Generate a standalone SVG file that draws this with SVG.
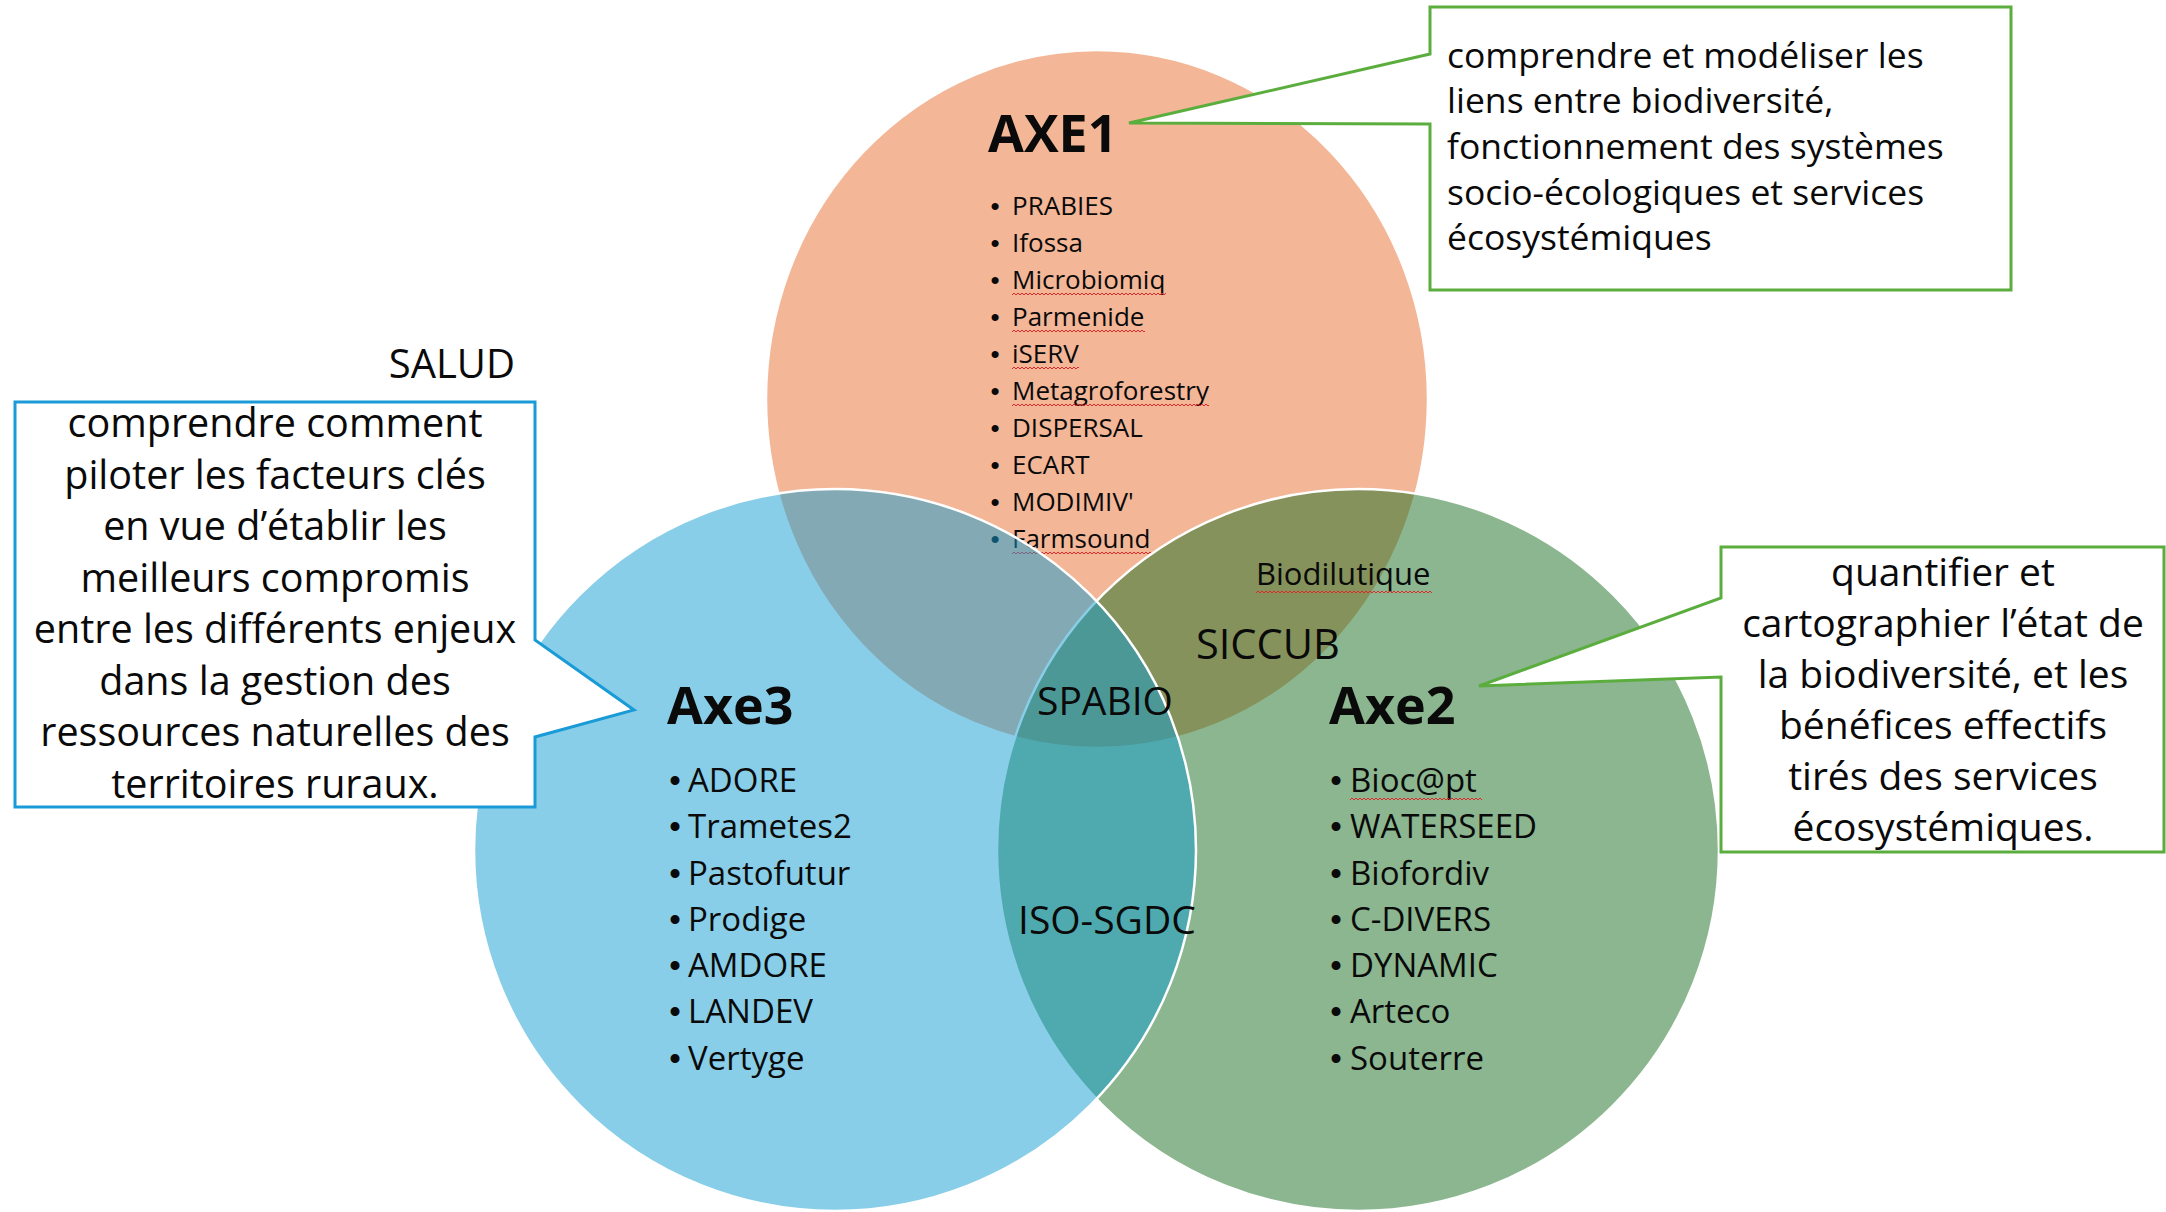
<svg xmlns="http://www.w3.org/2000/svg" width="2166" height="1212" viewBox="0 0 2166 1212">
<defs>
<pattern id="wavy" width="4" height="4" patternUnits="userSpaceOnUse"><path d="M0,3 L2,1 L4,3" fill="none" stroke="#e02828" stroke-width="1"/></pattern>
</defs>
<style>
text{font-family:"Open Sans","Liberation Sans",sans-serif;fill:#0a0a0a}
.title{font-weight:bold;font-size:52px}
.l1{font-size:26px}
.l2{font-size:33px}
text.bul{text-anchor:middle;font-family:"Liberation Sans",Arial,sans-serif}
.venn{stroke:#fff;stroke-width:2.5;fill-opacity:0.5}
.sq{fill:url(#wavy)}
.cb{fill:#fff;stroke:#1A9BD7;stroke-width:3}
.cg{fill:#fff;stroke:#5BAE3E;stroke-width:3}
.lbl{font-size:39px}
.box{font-size:39.5px}
</style>
<rect width="2166" height="1212" fill="#fff"/>

<g id="axe1">
<ellipse class="venn" cx="1097" cy="399" rx="331" ry="349" fill="#E76D2F"/>
<text class="title" x="988" y="152">AXE1</text>
<g class="l1">
<text class="bul" x="995" y="215">•</text><text x="1012" y="215">PRABIES</text>
<text class="bul" x="995" y="252">•</text><text x="1012" y="252">Ifossa</text>
<text class="bul" x="995" y="289">•</text><text x="1012" y="289">Microbiomiq</text>
<text class="bul" x="995" y="326">•</text><text x="1012" y="326">Parmenide</text>
<text class="bul" x="995" y="363">•</text><text x="1012" y="363">iSERV</text>
<text class="bul" x="995" y="400">•</text><text x="1012" y="400">Metagroforestry</text>
<text class="bul" x="995" y="437">•</text><text x="1012" y="437">DISPERSAL</text>
<text class="bul" x="995" y="474">•</text><text x="1012" y="474">ECART</text>
<text class="bul" x="995" y="511">•</text><text x="1012" y="511">MODIMIV'</text>
<text class="bul" x="995" y="548">•</text><text x="1012" y="548">Farmsound</text>
</g>
<rect class="sq" transform="translate(1012,292)" width="154" height="4"/>
<rect class="sq" transform="translate(1012,329)" width="133" height="4"/>
<rect class="sq" transform="translate(1012,366)" width="67" height="4"/>
<rect class="sq" transform="translate(1012,403)" width="197" height="4"/>
<rect class="sq" transform="translate(1012,551)" width="139" height="4"/>
</g>

<g id="axe2">
<circle class="venn" cx="1358" cy="850" r="361" fill="#176D1F"/>
<text class="title" x="1329" y="724">Axe2</text>
<g class="l2">
<text class="bul" x="1336" y="792">•</text><text x="1350" y="792">Bioc@pt</text>
<text class="bul" x="1336" y="838">•</text><text x="1350" y="838">WATERSEED</text>
<text class="bul" x="1336" y="885">•</text><text x="1350" y="885">Biofordiv</text>
<text class="bul" x="1336" y="931">•</text><text x="1350" y="931">C-DIVERS</text>
<text class="bul" x="1336" y="977">•</text><text x="1350" y="977">DYNAMIC</text>
<text class="bul" x="1336" y="1023">•</text><text x="1350" y="1023">Arteco</text>
<text class="bul" x="1336" y="1070">•</text><text x="1350" y="1070">Souterre</text>
</g>
<rect class="sq" transform="translate(1350,797)" width="132" height="4"/>
</g>

<g id="axe3">
<circle class="venn" cx="835" cy="850" r="361" fill="#139DD1"/>
<text class="title" x="667" y="724">Axe3</text>
<g class="l2">
<text class="bul" x="675" y="792">•</text><text x="688" y="792">ADORE</text>
<text class="bul" x="675" y="838">•</text><text x="688" y="838">Trametes2</text>
<text class="bul" x="675" y="885">•</text><text x="688" y="885">Pastofutur</text>
<text class="bul" x="675" y="931">•</text><text x="688" y="931">Prodige</text>
<text class="bul" x="675" y="977">•</text><text x="688" y="977">AMDORE</text>
<text class="bul" x="675" y="1023">•</text><text x="688" y="1023">LANDEV</text>
<text class="bul" x="675" y="1070">•</text><text x="688" y="1070">Vertyge</text>
</g>
</g>

<g id="intersections">
<text id="biodilutique" x="1256" y="585" font-size="31">Biodilutique</text>
<rect class="sq" transform="translate(1256,590)" width="176" height="4"/>
<text id="siccub" x="1196" y="659" font-size="41.5">SICCUB</text>
<text id="spabio" x="1037" y="715" class="lbl">SPABIO</text>
<text id="isosgdc" x="1018" y="934" class="lbl">ISO-SGDC</text>
</g>

<g id="connectors"></g>

<g id="salud">
<text x="515" y="378" font-size="40" text-anchor="end">SALUD</text>
</g>

<g id="callout-axe3">
<path class="cb" d="M15,402 H535 V640 L634,710 L535,737 V807 H15 Z"/>
<g class="box" text-anchor="middle">
<text x="275" y="437">comprendre comment</text>
<text x="275" y="488.5">piloter les facteurs clés</text>
<text x="275" y="540">en vue d’établir les</text>
<text x="275" y="591.5">meilleurs compromis</text>
<text x="275" y="643">entre les différents enjeux</text>
<text x="275" y="694.5">dans la gestion des</text>
<text x="275" y="746">ressources naturelles des</text>
<text x="275" y="797.5">territoires ruraux.</text>
</g>
</g>

<g id="callout-axe1">
<path class="cg" d="M1430,7 H2011 V290 H1430 V124 L1129,123 L1430,54 Z"/>
<g font-size="35.5">
<text x="1447" y="68">comprendre et modéliser les</text>
<text x="1447" y="113">liens entre biodiversité,</text>
<text x="1447" y="159">fonctionnement des systèmes</text>
<text x="1447" y="205">socio-écologiques et services</text>
<text x="1447" y="250">écosystémiques</text>
</g>
</g>

<g id="callout-axe2">
<path class="cg" d="M1721,547 H2164 V852 H1721 V677 L1479,686 L1721,598 Z"/>
<g font-size="39" text-anchor="middle">
<text x="1943" y="586">quantifier et</text>
<text x="1943" y="637">cartographier l’état de</text>
<text x="1943" y="688">la biodiversité, et les</text>
<text x="1943" y="739">bénéfices effectifs</text>
<text x="1943" y="790">tirés des services</text>
<text x="1943" y="841">écosystémiques.</text>
</g>
</g>
</svg>
